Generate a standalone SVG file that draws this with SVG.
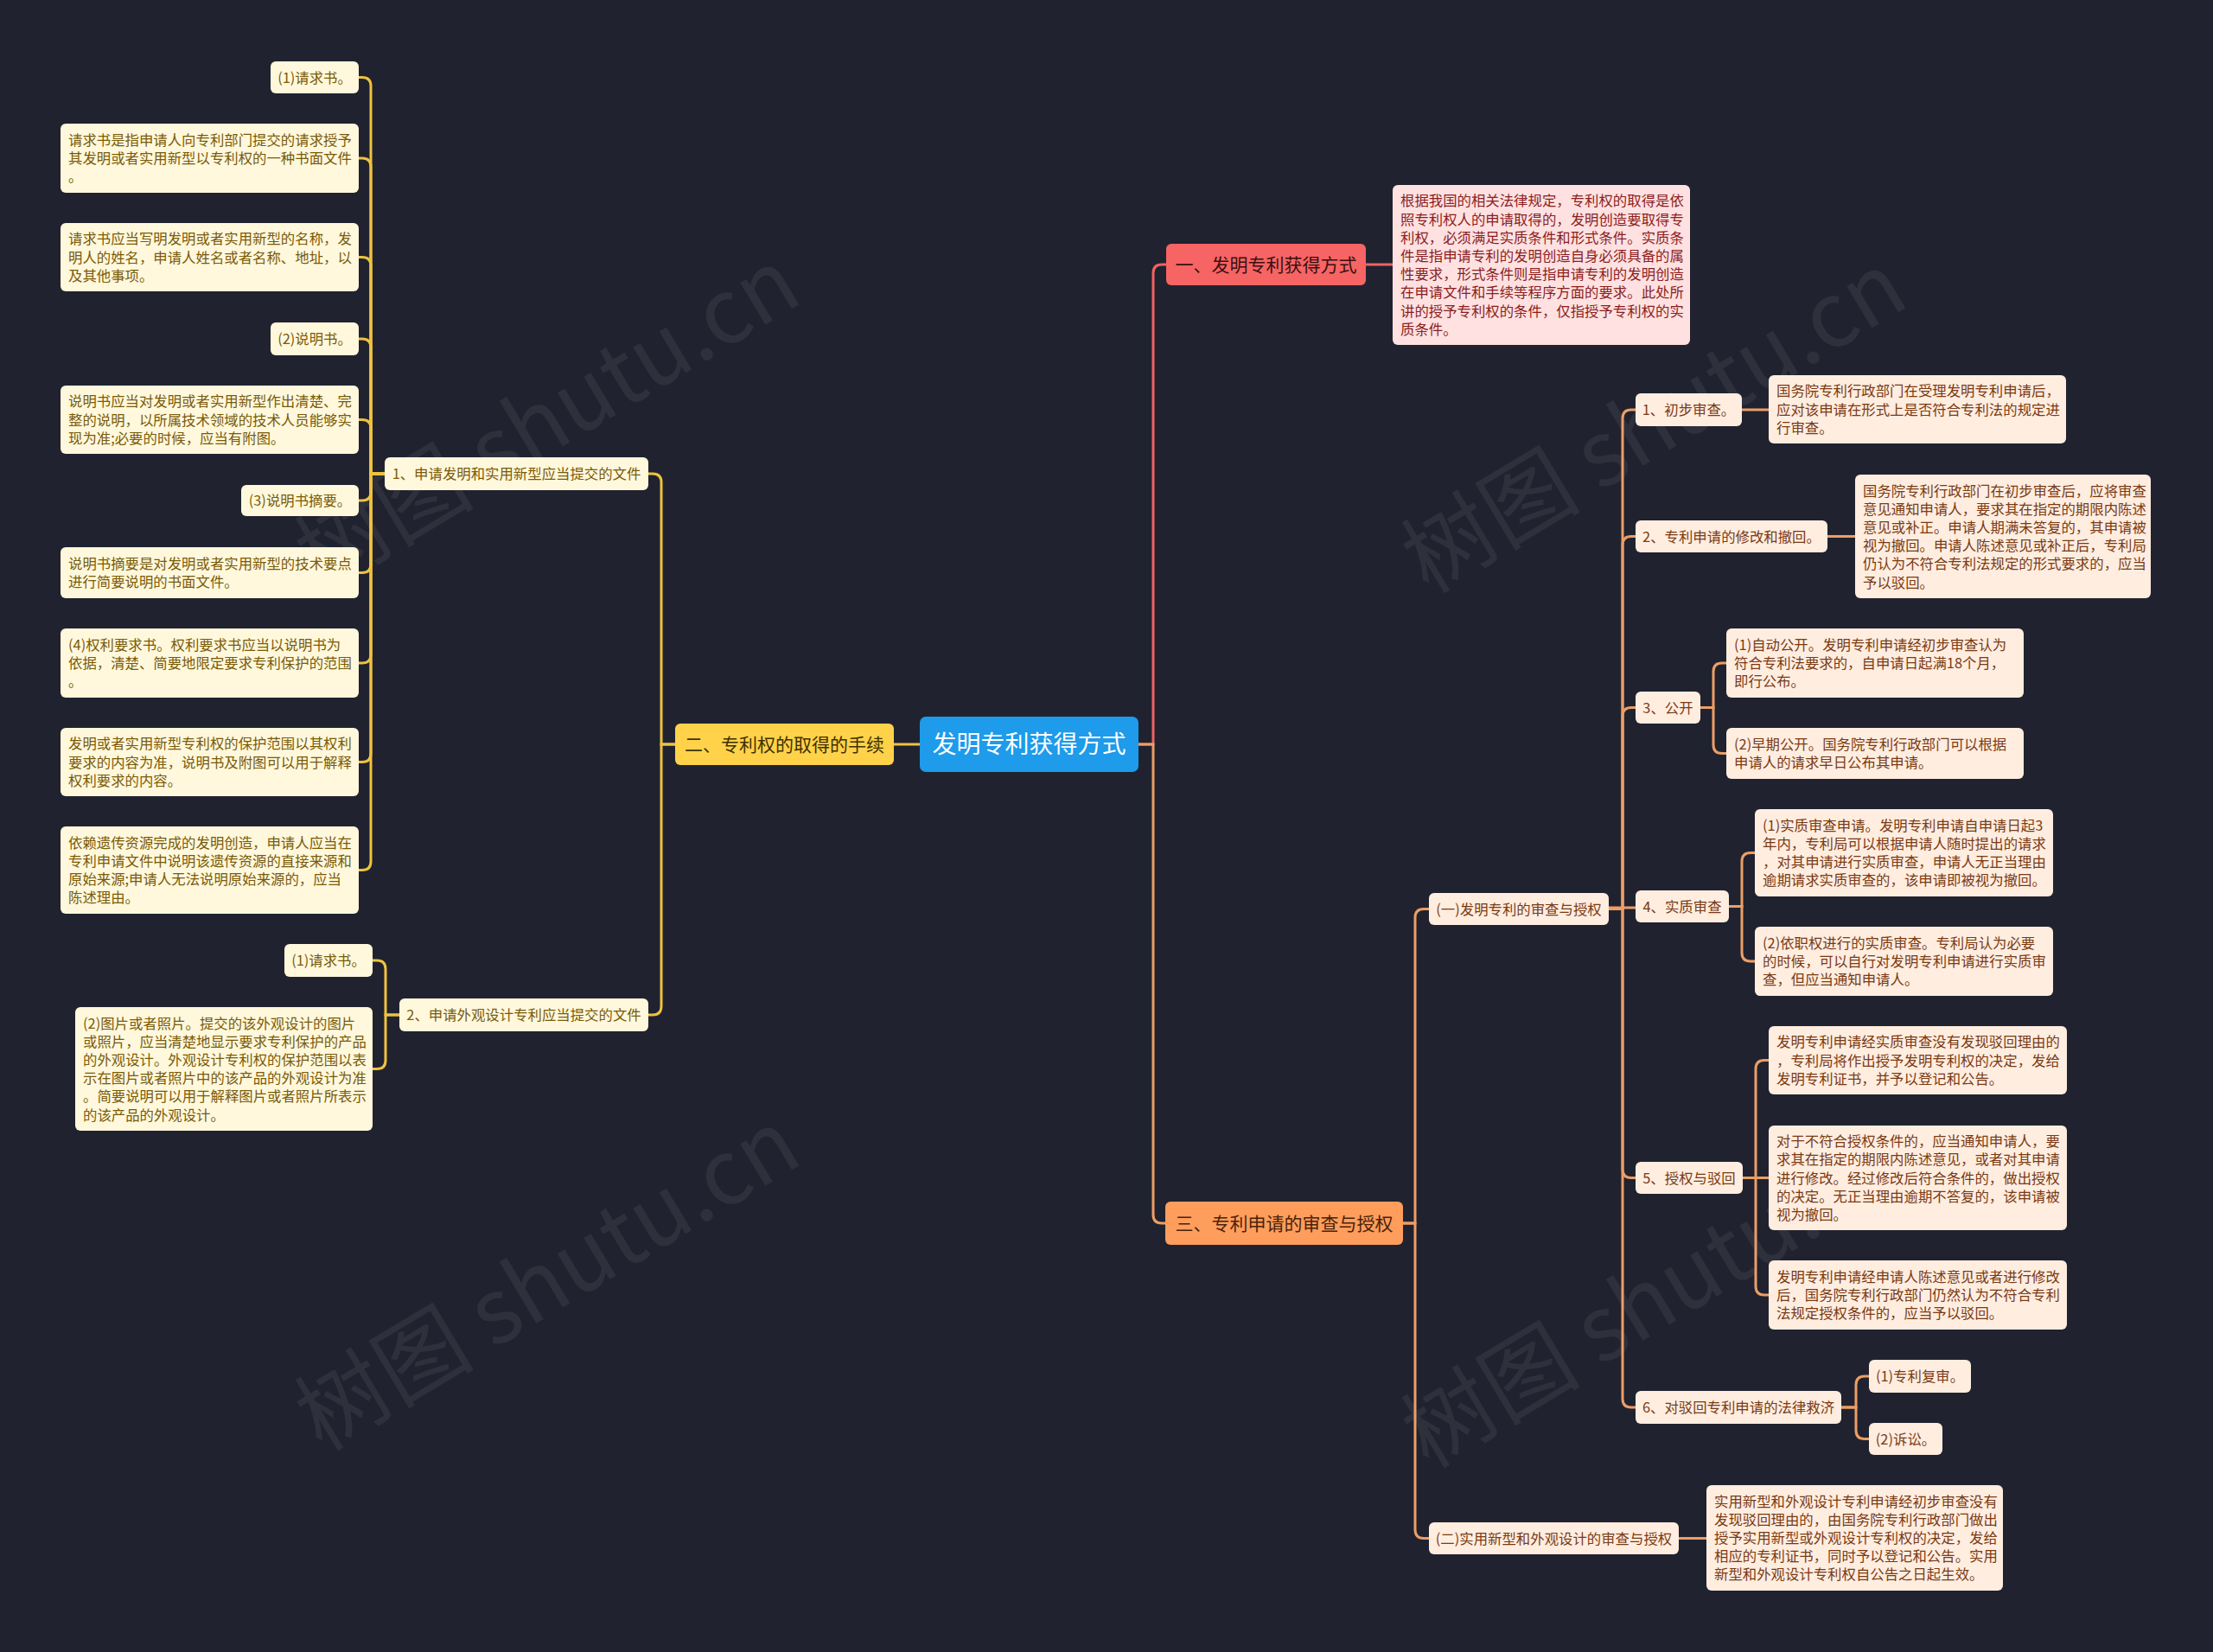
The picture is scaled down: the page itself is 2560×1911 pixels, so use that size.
<svg xmlns="http://www.w3.org/2000/svg" width="2560" height="1911" viewBox="0 0 2560 1911">
<style>
text{font-family:"Noto Sans CJK SC","Noto Sans",sans-serif;font-size:16.4px}
.wm{font-size:104px;fill:#ffffff;fill-opacity:0.065}
.y rect{fill:#FFF8DC}.y text{fill:#7A5A08}
.o rect{fill:#FFEDE0}.o text{fill:#7A3A12}
.r rect{fill:#FFE1E1}.r text{fill:#8B1E1E}
.c text{text-anchor:middle}
.big text{font-size:21px}
#connectors path{fill:none;stroke-width:3}
.cy{stroke:#EFC23F}.cr{stroke:#EE6363}.co{stroke:#EC9E66}
</style>
<rect width="2560" height="1911" fill="#20232F"/>
<g id="watermarks">
<text class="wm" transform="translate(652,516) rotate(-31)" text-anchor="middle">树图 shutu.cn</text>
<text class="wm" transform="translate(1932,520) rotate(-31)" text-anchor="middle">树图 shutu.cn</text>
<text class="wm" transform="translate(652,1512) rotate(-31)" text-anchor="middle">树图 shutu.cn</text>
<text class="wm" transform="translate(1932,1532) rotate(-31)" text-anchor="middle">树图 shutu.cn</text>
</g>
<g id="connectors">
<path class="cy" d="M1064,861 H1034"/>
<path class="cy" d="M781,861 H765 V558 Q765,548 755,548 H750"/>
<path class="cy" d="M781,861 H765 V1164 Q765,1174 755,1174 H750"/>
<path class="cy" d="M445,548 H429 V99.5 Q429,89.5 419,89.5 H415"/>
<path class="cy" d="M445,548 H429 V193 Q429,183 419,183 H415"/>
<path class="cy" d="M445,548 H429 V307.5 Q429,297.5 419,297.5 H415"/>
<path class="cy" d="M445,548 H429 V402 Q429,392 419,392 H415"/>
<path class="cy" d="M445,548 H429 V495.5 Q429,485.5 419,485.5 H415"/>
<path class="cy" d="M445,548 H429 V569 Q429,579 419,579 H415"/>
<path class="cy" d="M445,548 H429 V652.5 Q429,662.5 419,662.5 H415"/>
<path class="cy" d="M445,548 H429 V757 Q429,767 419,767 H415"/>
<path class="cy" d="M445,548 H429 V871.5 Q429,881.5 419,881.5 H415"/>
<path class="cy" d="M445,548 H429 V996.5 Q429,1006.5 419,1006.5 H415"/>
<path class="cy" d="M462,1174 H446 V1121 Q446,1111 436,1111 H431"/>
<path class="cy" d="M462,1174 H446 V1226.5 Q446,1236.5 436,1236.5 H431"/>
<path class="cr" d="M1317,861 H1334 V316 Q1334,306 1344,306 H1349"/>
<path class="cr" d="M1580,306 H1611"/>
<path class="co" d="M1317,861 H1334 V1405 Q1334,1415 1344,1415 H1348"/>
<path class="co" d="M1623,1415 H1637 V1061.5 Q1637,1051.5 1647,1051.5 H1653"/>
<path class="co" d="M1623,1415 H1637 V1769.5 Q1637,1779.5 1647,1779.5 H1653"/>
<path class="co" d="M1942,1779.5 H1974"/>
<path class="co" d="M1861,1051.5 H1877 V484 Q1877,474 1887,474 H1892"/>
<path class="co" d="M1861,1051.5 H1877 V630.5 Q1877,620.5 1887,620.5 H1892"/>
<path class="co" d="M1861,1051.5 H1877 V828.5 Q1877,818.5 1887,818.5 H1892"/>
<path class="co" d="M1861,1050 H1892"/>
<path class="co" d="M1861,1051.5 H1877 V1352.5 Q1877,1362.5 1887,1362.5 H1892"/>
<path class="co" d="M1861,1051.5 H1877 V1618 Q1877,1628 1887,1628 H1892"/>
<path class="co" d="M2015,474 H2046"/>
<path class="co" d="M2114,620.5 H2146"/>
<path class="co" d="M1967,818.5 H1982 V777 Q1982,767 1992,767 H1997"/>
<path class="co" d="M1967,818.5 H1982 V861.5 Q1982,871.5 1992,871.5 H1997"/>
<path class="co" d="M2000,1048.5 H2015 V996.5 Q2015,986.5 2025,986.5 H2030"/>
<path class="co" d="M2000,1048.5 H2015 V1102 Q2015,1112 2025,1112 H2030"/>
<path class="co" d="M2016,1362.5 H2031 V1236.5 Q2031,1226.5 2041,1226.5 H2046"/>
<path class="co" d="M2016,1362.5 H2046"/>
<path class="co" d="M2016,1362.5 H2031 V1488 Q2031,1498 2041,1498 H2046"/>
<path class="co" d="M2130,1628 H2147 V1602 Q2147,1592 2157,1592 H2162"/>
<path class="co" d="M2130,1628 H2147 V1654.5 Q2147,1664.5 2157,1664.5 H2162"/>
</g>

<g id="root"><rect x="1064" y="829" width="253" height="64" rx="7" fill="#1E9BEA"/><text x="1190.5" y="871" text-anchor="middle" font-size="28" fill="#ffffff" style="font-size:28px">发明专利获得方式</text></g>

<g id="b2" class="big c"><rect x="781" y="837" width="253" height="48" rx="6" fill="#FFD24A"/><text x="907.5" y="868.5" fill="#3F3100">二、专利权的取得的手续</text></g>
<g id="b1" class="big c"><rect x="1349" y="282" width="231" height="48" rx="6" fill="#F76464"/><text x="1464.5" y="313.5" fill="#3D0F0F">一、发明专利获得方式</text></g>
<g id="b3" class="big c"><rect x="1348" y="1390" width="275" height="50" rx="6" fill="#FF9D5C"/><text x="1485.5" y="1422.5" fill="#4A230A">三、专利申请的审查与授权</text></g>

<g id="n1" class="y c"><rect x="445" y="529" width="305" height="38" rx="6"/><text x="597.5" y="554">1、申请发明和实用新型应当提交的文件</text></g>
<g id="n2" class="y c"><rect x="462" y="1155" width="288" height="38" rx="6"/><text x="606" y="1180">2、申请外观设计专利应当提交的文件</text></g>

<g id="l1" class="y c"><rect x="313" y="71" width="102" height="37" rx="6"/><text x="364" y="95.5">(1)请求书。</text></g>
<g id="l2" class="y"><rect x="70" y="143" width="345" height="80" rx="6"/><text><tspan x="79" y="167.8">请求书是指申请人向专利部门提交的请求授予</tspan><tspan x="79" y="189">其发明或者实用新型以专利权的一种书面文件</tspan><tspan x="79" y="210.2">。</tspan></text></g>
<g id="l3" class="y"><rect x="70" y="258" width="345" height="79" rx="6"/><text><tspan x="79" y="282.3">请求书应当写明发明或者实用新型的名称，发</tspan><tspan x="79" y="303.5">明人的姓名，申请人姓名或者名称、地址，以</tspan><tspan x="79" y="324.7">及其他事项。</tspan></text></g>
<g id="l4" class="y c"><rect x="313" y="373" width="102" height="38" rx="6"/><text x="364" y="398">(2)说明书。</text></g>
<g id="l5" class="y"><rect x="70" y="446" width="345" height="79" rx="6"/><text><tspan x="79" y="470.3">说明书应当对发明或者实用新型作出清楚、完</tspan><tspan x="79" y="491.5">整的说明，以所属技术领域的技术人员能够实</tspan><tspan x="79" y="512.7">现为准;必要的时候，应当有附图。</tspan></text></g>
<g id="l6" class="y c"><rect x="279" y="561" width="136" height="36" rx="6"/><text x="347" y="585">(3)说明书摘要。</text></g>
<g id="l7" class="y"><rect x="70" y="633" width="345" height="59" rx="6"/><text><tspan x="79" y="657.9">说明书摘要是对发明或者实用新型的技术要点</tspan><tspan x="79" y="679.1">进行简要说明的书面文件。</tspan></text></g>
<g id="l8" class="y"><rect x="70" y="727" width="345" height="80" rx="6"/><text><tspan x="79" y="751.8">(4)权利要求书。权利要求书应当以说明书为</tspan><tspan x="79" y="773">依据，清楚、简要地限定要求专利保护的范围</tspan><tspan x="79" y="794.2">。</tspan></text></g>
<g id="l9" class="y"><rect x="70" y="842" width="345" height="79" rx="6"/><text><tspan x="79" y="866.3">发明或者实用新型专利权的保护范围以其权利</tspan><tspan x="79" y="887.5">要求的内容为准，说明书及附图可以用于解释</tspan><tspan x="79" y="908.7">权利要求的内容。</tspan></text></g>
<g id="l10" class="y"><rect x="70" y="956" width="345" height="101" rx="6"/><text><tspan x="79" y="980.7">依赖遗传资源完成的发明创造，申请人应当在</tspan><tspan x="79" y="1001.9">专利申请文件中说明该遗传资源的直接来源和</tspan><tspan x="79" y="1023.1">原始来源;申请人无法说明原始来源的，应当</tspan><tspan x="79" y="1044.3">陈述理由。</tspan></text></g>
<g id="m1" class="y c"><rect x="329" y="1092" width="102" height="38" rx="6"/><text x="380" y="1117">(1)请求书。</text></g>
<g id="m2" class="y"><rect x="87" y="1165" width="344" height="143" rx="6"/><text><tspan x="96" y="1189.5">(2)图片或者照片。提交的该外观设计的图片</tspan><tspan x="96" y="1210.7">或照片，应当清楚地显示要求专利保护的产品</tspan><tspan x="96" y="1231.9">的外观设计。外观设计专利权的保护范围以表</tspan><tspan x="96" y="1253.1">示在图片或者照片中的该产品的外观设计为准</tspan><tspan x="96" y="1274.3">。简要说明可以用于解释图片或者照片所表示</tspan><tspan x="96" y="1295.5">的该产品的外观设计。</tspan></text></g>

<g id="t1" class="r"><rect x="1611" y="214" width="344" height="185" rx="6"/><text><tspan x="1620" y="238.3">根据我国的相关法律规定，专利权的取得是依</tspan><tspan x="1620" y="259.5">照专利权人的申请取得的，发明创造要取得专</tspan><tspan x="1620" y="280.7">利权，必须满足实质条件和形式条件。实质条</tspan><tspan x="1620" y="301.9">件是指申请专利的发明创造自身必须具备的属</tspan><tspan x="1620" y="323.1">性要求，形式条件则是指申请专利的发明创造</tspan><tspan x="1620" y="344.3">在申请文件和手续等程序方面的要求。此处所</tspan><tspan x="1620" y="365.5">讲的授予专利权的条件，仅指授予专利权的实</tspan><tspan x="1620" y="386.7">质条件。</tspan></text></g>

<g id="s1" class="o c"><rect x="1653" y="1033" width="208" height="37" rx="6"/><text x="1757" y="1057.5">(一)发明专利的审查与授权</text></g>
<g id="s2" class="o c"><rect x="1653" y="1761" width="289" height="37" rx="6"/><text x="1797.5" y="1785.5">(二)实用新型和外观设计的审查与授权</text></g>
<g id="t2" class="o"><rect x="1974" y="1718" width="343" height="122" rx="6"/><text><tspan x="1983" y="1742.6">实用新型和外观设计专利申请经初步审查没有</tspan><tspan x="1983" y="1763.8">发现驳回理由的，由国务院专利行政部门做出</tspan><tspan x="1983" y="1785">授予实用新型或外观设计专利权的决定，发给</tspan><tspan x="1983" y="1806.2">相应的专利证书，同时予以登记和公告。实用</tspan><tspan x="1983" y="1827.4">新型和外观设计专利权自公告之日起生效。</tspan></text></g>

<g id="c1" class="o c"><rect x="1892" y="455" width="123" height="38" rx="6"/><text x="1953.5" y="480">1、初步审查。</text></g>
<g id="c1t" class="o"><rect x="2046" y="434" width="344" height="79" rx="6"/><text><tspan x="2055" y="458.3">国务院专利行政部门在受理发明专利申请后，</tspan><tspan x="2055" y="479.5">应对该申请在形式上是否符合专利法的规定进</tspan><tspan x="2055" y="500.7">行审查。</tspan></text></g>
<g id="c2" class="o c"><rect x="1892" y="602" width="222" height="37" rx="6"/><text x="2003" y="626.5">2、专利申请的修改和撤回。</text></g>
<g id="c2t" class="o"><rect x="2146" y="549" width="342" height="143" rx="6"/><text><tspan x="2155" y="573.5">国务院专利行政部门在初步审查后，应将审查</tspan><tspan x="2155" y="594.7">意见通知申请人，要求其在指定的期限内陈述</tspan><tspan x="2155" y="615.9">意见或补正。申请人期满未答复的，其申请被</tspan><tspan x="2155" y="637.1">视为撤回。申请人陈述意见或补正后，专利局</tspan><tspan x="2155" y="658.3">仍认为不符合专利法规定的形式要求的，应当</tspan><tspan x="2155" y="679.5">予以驳回。</tspan></text></g>
<g id="c3" class="o c"><rect x="1892" y="800" width="75" height="37" rx="6"/><text x="1929.5" y="824.5">3、公开</text></g>
<g id="c3a" class="o"><rect x="1997" y="727" width="344" height="80" rx="6"/><text><tspan x="2006" y="751.8">(1)自动公开。发明专利申请经初步审查认为</tspan><tspan x="2006" y="773">符合专利法要求的，自申请日起满18个月，</tspan><tspan x="2006" y="794.2">即行公布。</tspan></text></g>
<g id="c3b" class="o"><rect x="1997" y="842" width="344" height="59" rx="6"/><text><tspan x="2006" y="866.9">(2)早期公开。国务院专利行政部门可以根据</tspan><tspan x="2006" y="888.1">申请人的请求早日公布其申请。</tspan></text></g>
<g id="c4" class="o c"><rect x="1892" y="1030" width="108" height="37" rx="6"/><text x="1946" y="1054.5">4、实质审查</text></g>
<g id="c4a" class="o"><rect x="2030" y="936" width="345" height="101" rx="6"/><text><tspan x="2039" y="960.7">(1)实质审查申请。发明专利申请自申请日起3</tspan><tspan x="2039" y="981.9">年内，专利局可以根据申请人随时提出的请求</tspan><tspan x="2039" y="1003.1">，对其申请进行实质审查，申请人无正当理由</tspan><tspan x="2039" y="1024.3">逾期请求实质审查的，该申请即被视为撤回。</tspan></text></g>
<g id="c4b" class="o"><rect x="2030" y="1072" width="345" height="80" rx="6"/><text><tspan x="2039" y="1096.8">(2)依职权进行的实质审查。专利局认为必要</tspan><tspan x="2039" y="1118">的时候，可以自行对发明专利申请进行实质审</tspan><tspan x="2039" y="1139.2">查，但应当通知申请人。</tspan></text></g>
<g id="c5" class="o c"><rect x="1892" y="1344" width="124" height="37" rx="6"/><text x="1954" y="1368.5">5、授权与驳回</text></g>
<g id="c5a" class="o"><rect x="2046" y="1187" width="345" height="79" rx="6"/><text><tspan x="2055" y="1211.3">发明专利申请经实质审查没有发现驳回理由的</tspan><tspan x="2055" y="1232.5">，专利局将作出授予发明专利权的决定，发给</tspan><tspan x="2055" y="1253.7">发明专利证书，并予以登记和公告。</tspan></text></g>
<g id="c5b" class="o"><rect x="2046" y="1302" width="345" height="121" rx="6"/><text><tspan x="2055" y="1326.1">对于不符合授权条件的，应当通知申请人，要</tspan><tspan x="2055" y="1347.3">求其在指定的期限内陈述意见，或者对其申请</tspan><tspan x="2055" y="1368.5">进行修改。经过修改后符合条件的，做出授权</tspan><tspan x="2055" y="1389.7">的决定。无正当理由逾期不答复的，该申请被</tspan><tspan x="2055" y="1410.9">视为撤回。</tspan></text></g>
<g id="c5c" class="o"><rect x="2046" y="1458" width="345" height="80" rx="6"/><text><tspan x="2055" y="1482.8">发明专利申请经申请人陈述意见或者进行修改</tspan><tspan x="2055" y="1504">后，国务院专利行政部门仍然认为不符合专利</tspan><tspan x="2055" y="1525.2">法规定授权条件的，应当予以驳回。</tspan></text></g>
<g id="c6" class="o c"><rect x="1892" y="1609" width="238" height="38" rx="6"/><text x="2011" y="1634">6、对驳回专利申请的法律救济</text></g>
<g id="c6a" class="o c"><rect x="2162" y="1573" width="118" height="38" rx="6"/><text x="2221" y="1598">(1)专利复审。</text></g>
<g id="c6b" class="o c"><rect x="2162" y="1646" width="85" height="37" rx="6"/><text x="2204.5" y="1670.5">(2)诉讼。</text></g>
</svg>
